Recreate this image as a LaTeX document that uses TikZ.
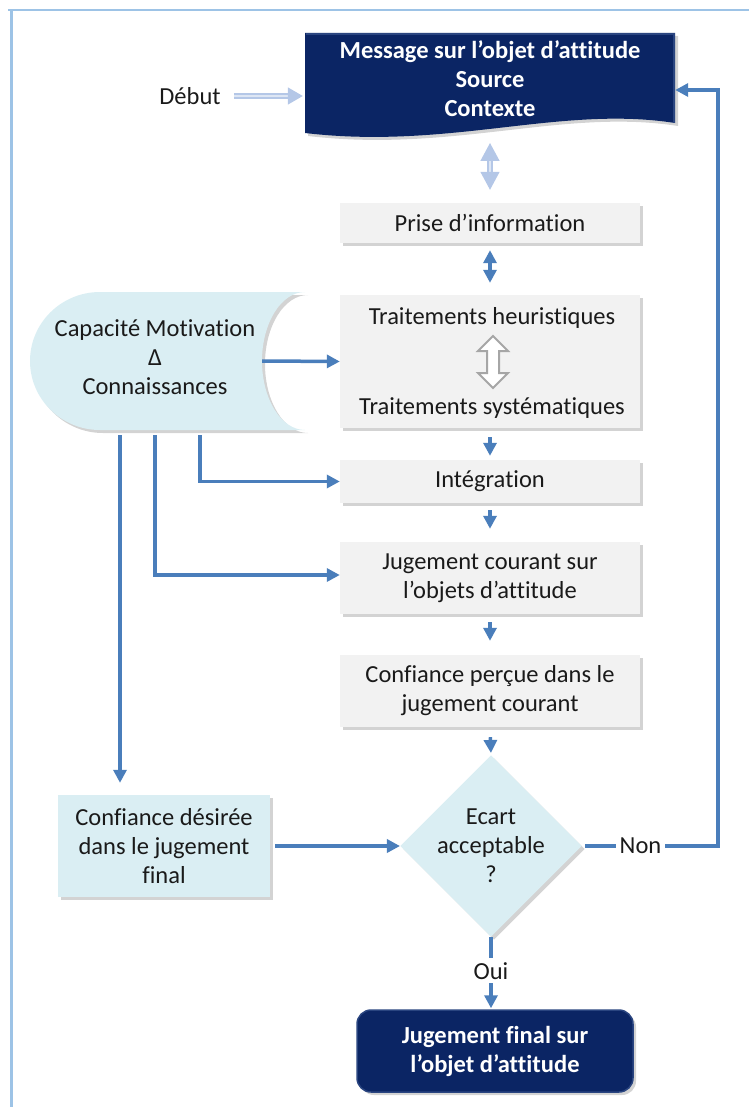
\documentclass[tikz,border=0pt]{standalone}
\usepackage{fontspec}
\setmainfont{Carlito}[Ligatures=NoCommon]
\usetikzlibrary{shapes.geometric,shadows,arrows.meta,calc}
\definecolor{navy}{HTML}{0B2564}
\definecolor{navyedge}{HTML}{2A4580}
\definecolor{arrblue}{HTML}{4A7EBB}
\definecolor{lblue}{HTML}{DAEEF3}
\definecolor{pale}{HTML}{B4C7E7}
\definecolor{boxgray}{HTML}{F2F2F2}
\definecolor{framecol}{HTML}{9DC3E6}
\definecolor{txt}{HTML}{1A1A1A}
\begin{document}
\begin{tikzpicture}[x=1pt,y=1pt,
  every node/.style={font=\fontsize{24.5}{29}\selectfont, text=txt, align=center, inner sep=2pt},
  shad/.style={drop shadow={opacity=0.35, shadow xshift=3pt, shadow yshift=-3pt}},
  graybox/.style={rectangle, fill=boxgray, minimum width=300pt, shad},
  bluebox/.style={rectangle, fill=lblue, shad},
  hidden/.style={rectangle, inner sep=0pt},
  whitetext/.style={text=white, font=\fontsize{24.5}{29}\selectfont\bfseries},
  conn/.style={draw=arrblue, line width=3.5pt, -{Triangle[length=13pt,width=13pt]}},
  conn2/.style={draw=arrblue, line width=3.5pt, {Triangle[length=13pt,width=13pt]}-{Triangle[length=13pt,width=13pt]}},
  palearrow/.style={draw=pale, line width=1.5pt, double=pale!45, double distance=2.5pt},
  lab/.style={fill=white, inner sep=4pt}
]
\useasboundingbox (0,0) rectangle (749,-1107);
% frame
\draw[framecol, line width=2pt] (8,-10) -- (749,-10);
\draw[framecol, line width=3pt] (11,-10) -- (11,-1107);

% top message (document shape)
\node[hidden, minimum width=370pt, minimum height=96pt] (msg) at (490,-79) {};
\fill[navy, shad] (305,-33) -- (675,-33) -- (675,-123)
  .. controls (560,-105) and (450,-150) .. (305,-133) -- cycle;
\draw[navyedge, line width=1.5pt] (306,-34) -- (674,-34) -- (674,-123);
\node[whitetext] at (msg.center) {Message sur l’objet d’attitude\\Source\\Contexte};

% Début
\node (debut) at (190,-96) {Début};
\draw[palearrow, -{Triangle[length=15pt,width=17pt]}, shorten <=11pt, shorten >=2pt]
  (debut.east) -- (debut.east -| msg.west);

% Prise d'information
\node[graybox, minimum height=40pt] (prise) at (490,-223) {Prise d’information};
\draw[palearrow, {Triangle[length=18pt,width=19pt]}-{Triangle[length=18pt,width=19pt]}, shorten <=15pt, shorten >=13pt]
  (msg.south |- 490,-128) -- (prise.north);

% Traitements
\node[graybox, minimum height=133pt] (trait) at (490,-361.5) {};
\node (th) at (492,-318) {Traitements heuristiques};
\node (ts) at (492,-408) {Traitements systématiques};
\fill[white, draw=black!35, line width=2pt, line join=miter]
  (493,-336) -- (508,-351) -- (499,-351) -- (499,-373) -- (508,-373) -- (493,-388)
  -- (478,-373) -- (487,-373) -- (487,-351) -- (478,-351) -- cycle;
\draw[conn2, shorten <=7pt, shorten >=12pt] (prise.south) -- (trait.north);

% Capacité shape
\node[hidden, minimum width=275pt, minimum height=138pt] (cap) at (167.5,-361) {};
\fill[lblue, shad] (100,-292) -- (305,-292)
  arc[start angle=90, end angle=270, x radius=43, y radius=69]
  -- (100,-430) arc[start angle=270, end angle=90, x radius=70, y radius=69] -- cycle;
\node (captext) at (155,-357) {Capacité Motivation\\Δ\\Connaissances};
\draw[conn] ([xshift=-43pt]cap.east) -- (trait.west);

% Intégration
\node[graybox, minimum height=43pt] (integ) at (490,-481.5) {Intégration};
\draw[conn, shorten <=9pt, shorten >=4pt] (trait.south) -- (integ.north);
\draw[conn] ([xshift=32.5pt,yshift=-5pt]cap.south) |- (integ.west);

% Jugement courant
\node[graybox, minimum height=72pt] (jug) at (490,-578) {Jugement courant sur\\l’objets d’attitude};
\draw[conn, shorten <=7pt, shorten >=13pt] (integ.south) -- (jug.north);
\draw[conn] ([xshift=-12.5pt,yshift=-5pt]cap.south) |- ([yshift=3pt]jug.west);

% Confiance perçue
\node[graybox, minimum height=72pt] (confp) at (490,-691) {Confiance perçue dans le\\jugement courant};
\draw[conn, shorten <=8pt, shorten >=14pt] (jug.south) -- (confp.north);

% Diamond
\node[diamond, fill=lblue, shad, minimum width=173pt, minimum height=160pt, inner sep=0pt] (dia) at (491,-846) {Ecart\\acceptable\\?};
\draw[conn, shorten <=10pt, shorten >=2pt] (confp.south) -- (dia.north);

% Confiance désirée
\node[bluebox, minimum width=212pt, minimum height=102pt] (confd) at (164,-846) {Confiance désirée\\dans le jugement\\final};
\coordinate (d1) at ([xshift=-47.5pt,yshift=-5pt]cap.south);
\draw[conn, shorten >=12pt] (d1) -- (d1 |- confd.north);
\draw[conn, shorten <=5pt] (confd.east) -- (dia.west);

% Non loop
\coordinate (ret) at (718,-846);
\draw[conn, shorten <=3pt] (dia.east) -- node[lab, pos=0.43] {Non} (ret) |- ([yshift=-11pt]msg.east);

% Final
\node[rectangle, rounded corners=14pt, fill=navy, draw=navyedge, line width=1.5pt, shad, minimum width=276pt, minimum height=82pt, whitetext] (final) at (495,-1051) {Jugement final sur\\l’objet d’attitude};
\draw[conn, shorten >=1pt] (dia.south) -- node[lab, pos=0.47] {Oui} (dia.south |- final.north);
\end{tikzpicture}
\end{document}
